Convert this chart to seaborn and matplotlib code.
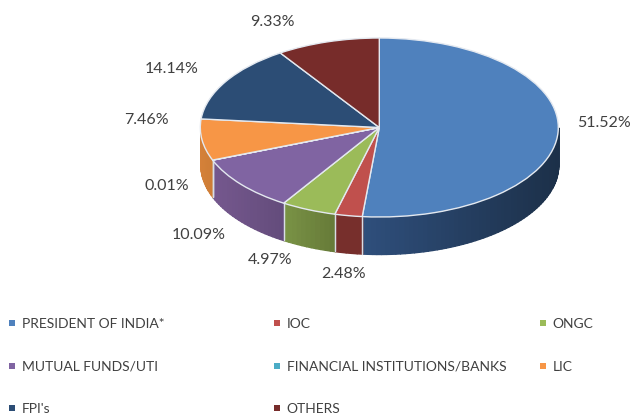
import numpy as np
import matplotlib
matplotlib.use("Agg")
import matplotlib.pyplot as plt
from matplotlib.colors import to_rgb
from matplotlib.lines import Line2D
import seaborn as sns

categories = ["PRESIDENT OF INDIA*", "IOC", "ONGC", "MUTUAL FUNDS/UTI",
              "FINANCIAL INSTITUTIONS/BANKS", "LIC", "FPI's", "OTHERS"]
values = [51.52, 2.48, 4.97, 10.09, 0.01, 7.46, 14.14, 9.33]
value_labels = ["51.52%", "2.48%", "4.97%", "10.09%", "0.01%", "7.46%", "14.14%", "9.33%"]
hex_colors = ["#4f81bd", "#c0504d", "#9bbb59", "#8064a2",
              "#4bacc6", "#f79646", "#2c4d75", "#772c2a"]
# side-wall colours at the left and right end of each visible wall
side_left = ["#2f4f7c", "#772f2c", "#7a9346", "#75588e",
             "#3f8ea5", "#d58139", "#24405f", "#632523"]
side_right = ["#1c3049", "#772f2c", "#667a38", "#644c7c",
              "#3f8ea5", "#cd7d36", "#24405f", "#632523"]

W, H = 633, 419
CX, CY, RX, RY, DEPTH = 379.3, 127.5, 179.0, 89.5, 37.0

sns.set_theme(style="white")
plt.rcParams["font.family"] = ["Lato", "DejaVu Sans"]
palette = sns.color_palette(hex_colors)
TEXT = "#404040"

fig = plt.figure(figsize=(W / 100, H / 100), dpi=100, facecolor="white")
ax = fig.add_axes([0, 0, 1, 1])
wedges, _ = ax.pie(values, colors=palette, startangle=90, counterclock=False,
                   radius=1, wedgeprops=dict(edgecolor="#e4e9f0", linewidth=1.0, zorder=5))
ax.set_aspect("auto")
ax.set_xlim(-CX / RX, (W - CX) / RX)
ax.set_ylim((CY - H) / RY, CY / RY)
ax.axis("off")

# Extruded wall, derived from the slice angles: only the front half (-180..0 deg) shows
d = DEPTH / RY
total = sum(values)
start = 90.0
for val, cl, cr in zip(values, side_left, side_right):
    end = start - val / total * 360.0
    lo, hi = max(end, -180.0), min(start, 0.0)
    if hi > lo:
        grid = np.linspace(lo, hi, max(2, int((hi - lo) / 1.5)) + 1)
        c_l, c_r = np.array(to_rgb(cl)), np.array(to_rgb(cr))
        xs = np.cos(np.radians(grid))
        x_min, x_max = xs.min(), xs.max()
        for g0, g1 in zip(grid[:-1], grid[1:]):
            t = np.linspace(g0, g1, 4)
            x, y = np.cos(np.radians(t)), np.sin(np.radians(t))
            f = (x.mean() - x_min) / max(x_max - x_min, 1e-6)
            ax.fill_between(x, y, y - d, color=c_l + (c_r - c_l) * f, lw=1.0, zorder=2)
        for g in (lo, hi):
            if g not in (-180.0, 0.0):
                gx, gy = np.cos(np.radians(g)), np.sin(np.radians(g))
                ax.plot([gx, gx], [gy, gy - d], color="#d8dde5", lw=0.9, zorder=3)
    start = end

# Percentage labels, in pixel placement
label_px = [(604.5, 123), (344, 274), (270.5, 260), (198.5, 235),
            (167, 186), (146, 120), (171.5, 69), (272, 22)]
for txt, (px, py) in zip(value_labels, label_px):
    fig.text(px / W, 1 - py / H, txt, ha="center", va="center", fontsize=11.5, color=TEXT)

# Legend: three columns of uneven spacing
columns = [([0, 3, 6], 9), ([1, 4, 7], 274), ([2, 5], 540)]
for idx, left in columns:
    handles = [Line2D([], [], ls="none", marker="s", ms=4, mew=0, color=palette[i]) for i in idx]
    fig.legend(handles, [categories[i] for i in idx], loc="upper left",
               bbox_to_anchor=(left / W, 1 - 318 / H), bbox_transform=fig.transFigure,
               frameon=False, fontsize=10, labelcolor=TEXT, labelspacing=2.2,
               handlelength=0.45, handletextpad=0.46, borderpad=0, borderaxespad=0)

fig.savefig("out.png", dpi=100, facecolor="white")
